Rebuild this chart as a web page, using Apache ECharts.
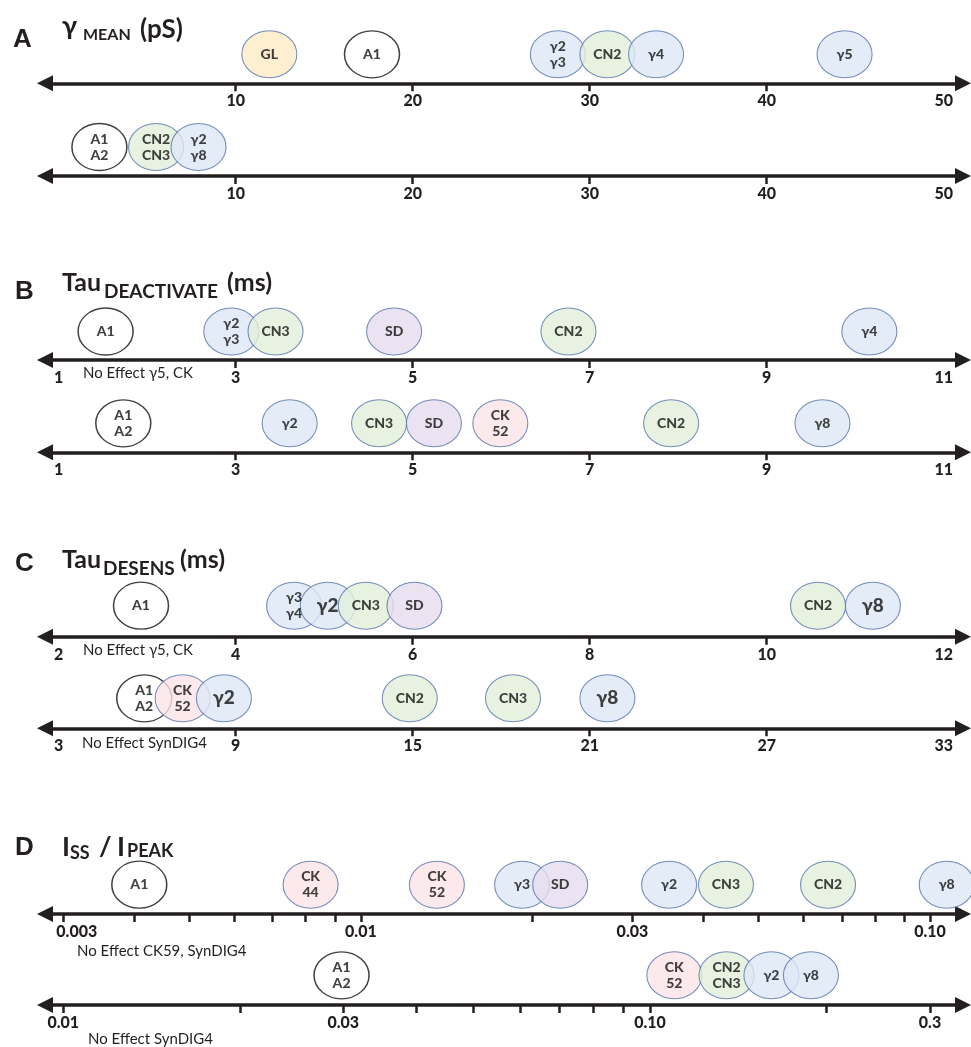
<!DOCTYPE html>
<html><head><meta charset="utf-8">
<script src="https://cdn.jsdelivr.net/npm/echarts@6/dist/echarts.min.js"></script>
<style>html,body{margin:0;padding:0;background:#fff}#c{width:971px;height:1047px}</style>
</head><body><div id="c"></div>
<script>
// ---------------- DATA ----------------
// A: gamma mean (pS)
const A1_labels = ['GL', 'A1', 'γ2\nγ3', 'CN2', 'γ4', 'γ5'];
const A1_values = [11.9, 17.7, 28.2, 31.0, 33.75, 44.4];
const A1_kinds  = ['GL', 'A', 'G', 'CN', 'G', 'G'];
const A2_labels = ['A1\nA2', 'CN2\nCN3', 'γ2\nγ8'];
const A2_values = [2.3, 5.5, 7.9];
const A2_kinds  = ['A', 'CN', 'G'];
const A_tickLabels = [10, 20, 30, 40, 50];

// B: Tau deactivate (ms)
const B1_labels = ['A1', 'γ2\nγ3', 'CN3', 'SD', 'CN2', 'γ4'];
const B1_values = [1.53, 2.95, 3.45, 4.79, 6.76, 10.16];
const B1_kinds  = ['A', 'G', 'CN', 'SD', 'CN', 'G'];
const B2_labels = ['A1\nA2', 'γ2', 'CN3', 'SD', 'CK\n52', 'CN2', 'γ8'];
const B2_values = [1.73, 3.61, 4.62, 5.24, 5.99, 7.92, 9.63];
const B2_kinds  = ['A', 'G', 'CN', 'SD', 'CK', 'CN', 'G'];
const B_tickLabels = [1, 3, 5, 7, 9, 11];

// C: Tau desens (ms)
const C1_labels = ['A1', 'γ3\nγ4', 'γ2', 'CN3', 'SD', 'CN2', 'γ8'];
const C1_values = [2.93, 4.66, 5.04, 5.47, 6.02, 10.58, 11.2];
const C1_kinds  = ['A', 'G', 'G', 'CN', 'SD', 'CN', 'G'];
const C1_tickLabels = [2, 4, 6, 8, 10, 12];
const C2_labels = ['A1\nA2', 'CK\n52', 'γ2', 'CN2', 'CN3', 'γ8'];
const C2_values = [5.9, 7.2, 8.6, 14.9, 18.4, 21.6];
const C2_kinds  = ['A', 'CK', 'G', 'CN', 'CN', 'G'];
const C2_tickLabels = [3, 9, 15, 21, 27, 33];

// D: Iss / Ipeak
const D1_labels = ['A1', 'CK\n44', 'CK\n52', 'γ3', 'SD', 'γ2', 'CN3', 'CN2', 'γ8'];
const D1_values = [0.00408, 0.00816, 0.0136, 0.0192, 0.0224, 0.0348, 0.0438, 0.0662, 0.107];
const D1_kinds  = ['A', 'CK', 'CK', 'G', 'SD', 'G', 'CN', 'CN', 'G'];
const D1_tickValues = [0.003, 0.01, 0.03, 0.1];
const D1_tickLabels = ['0.003', '0.01', '0.03', '0.10'];
const D1_minorTicks = [0.004, 0.005, 0.006, 0.007, 0.008, 0.009, 0.02, 0.04, 0.05, 0.06, 0.07, 0.08, 0.09];
const D2_labels = ['A1\nA2', 'CK\n52', 'CN2\nCN3', 'γ2', 'γ8'];
const D2_values = [0.0298, 0.110, 0.135, 0.161, 0.188];
const D2_kinds  = ['A', 'CK', 'CN', 'G', 'G'];
const D2_tickValues = [0.01, 0.03, 0.1, 0.3];
const D2_tickLabels = ['0.01', '0.03', '0.10', '0.3'];
const D2_minorTicks = [0.02, 0.04, 0.05, 0.06, 0.07, 0.08, 0.09, 0.2];

const noEffectNotes = ['No Effect γ5, CK', 'No Effect γ5, CK', 'No Effect SynDIG4', 'No Effect CK59, SynDIG4', 'No Effect SynDIG4'];

// ---------------- LAYOUT / STYLE ----------------
const INK = '#231f20';
const FONT = 'Lato, "Open Sans", "DejaVu Sans", sans-serif';
const kindStyle = {
  G:  { color: '#dde8f5', borderColor: '#5572ab', borderWidth: 1 },
  CN: { color: '#e2efd9', borderColor: '#5572ab', borderWidth: 1 },
  SD: { color: '#e6dcee', borderColor: '#5572ab', borderWidth: 1 },
  CK: { color: '#fbe4e7', borderColor: '#5572ab', borderWidth: 1 },
  GL: { color: '#fdebc4', borderColor: '#5572ab', borderWidth: 1 },
  A:  { color: '#ffffff', borderColor: '#111111', borderWidth: 1.4 }
};
const L = 45, R = 963;

const rows = [
  { id: 'A1', labels: A1_labels, values: A1_values, kinds: A1_kinds, tickVals: A_tickLabels, tickText: A_tickLabels.map(String), span: [0, 50], px: [58.7, 943.7], lineY: 83.3, off: 29 },
  { id: 'A2', labels: A2_labels, values: A2_values, kinds: A2_kinds, tickVals: A_tickLabels, tickText: A_tickLabels.map(String), span: [0, 50], px: [58.7, 943.7], lineY: 176, off: 29 },
  { id: 'B1', labels: B1_labels, values: B1_values, kinds: B1_kinds, tickVals: B_tickLabels, tickText: B_tickLabels.map(String), span: [1, 11], px: [58.7, 943.7], lineY: 360, off: 28.5 },
  { id: 'B2', labels: B2_labels, values: B2_values, kinds: B2_kinds, tickVals: B_tickLabels, tickText: B_tickLabels.map(String), span: [1, 11], px: [58.7, 943.7], lineY: 452.3, off: 29 },
  { id: 'C1', labels: C1_labels, values: C1_values, kinds: C1_kinds, tickVals: C1_tickLabels, tickText: C1_tickLabels.map(String), span: [2, 12], px: [58.7, 943.7], lineY: 636.7, off: 31 },
  { id: 'C2', labels: C2_labels, values: C2_values, kinds: C2_kinds, tickVals: C2_tickLabels, tickText: C2_tickLabels.map(String), span: [3, 33], px: [58.7, 943.7], lineY: 728.3, off: 30 },
  { id: 'D1', labels: D1_labels, values: D1_values, kinds: D1_kinds, tickVals: D1_tickValues, tickText: D1_tickLabels, minor: D1_minorTicks, log: true, span: [0.003, 0.1], px: [63.3, 930], lineY: 914, off: 29.3, shiftFirst: true },
  { id: 'D2', labels: D2_labels, values: D2_values, kinds: D2_kinds, tickVals: D2_tickValues, tickText: D2_tickLabels, minor: D2_minorTicks, log: true, span: [0.01, 0.3], px: [63.3, 930], lineY: 1005, off: 29.7 }
];

const grid = [], xAxis = [], yAxis = [], series = [];
rows.forEach((r, i) => {
  const f = r.log ? Math.log10 : (v => v);
  const g = r.log ? (v => Math.pow(10, v)) : (v => v);
  const a = f(r.span[0]), b = f(r.span[1]);
  const s = (b - a) / (r.px[1] - r.px[0]);
  const min = g(a - (r.px[0] - L) * s);
  const max = g(b + (R - r.px[1]) * s);
  grid.push({ left: L, width: R - L, top: r.lineY - 2 * r.off, height: 2 * r.off });
  let tickVals;
  if (r.log) tickVals = r.tickVals.concat(r.minor).sort((p, q) => p - q);
  else tickVals = r.tickVals.filter(v => v > r.span[0] && v < r.span[1]);
  xAxis.push({
    gridIndex: i,
    type: r.log ? 'log' : 'value',
    logBase: 10,
    min: min, max: max,
    splitLine: { show: false },
    axisLine: { show: true, symbol: ['triangle', 'triangle'], symbolSize: [16, 16],
      lineStyle: { color: INK, width: 3.6 } },
    axisTick: { show: true, customValues: tickVals, length: 8, lineStyle: { color: INK, width: 2.5 } },
    axisLabel: {
      show: true, customValues: r.tickVals, margin: 10,
      color: INK, fontSize: 16, fontWeight: 900, fontFamily: FONT,
      rich: { sh: { color: INK, fontSize: 16, fontWeight: 900, fontFamily: FONT, padding: [0, 0, 0, 27] } },
      formatter: function (v) {
        let best = 0, bd = Infinity;
        r.tickVals.forEach((t, k) => { const d = Math.abs(f(t) - f(v)); if (d < bd) { bd = d; best = k; } });
        if (r.shiftFirst && best === 0) return '{sh|' + r.tickText[best] + '}';
        return r.tickText[best];
      }
    }
  });
  yAxis.push({ gridIndex: i, type: 'value', min: 0, max: 1, show: false });
  series.push({
    type: 'scatter', xAxisIndex: i, yAxisIndex: i, clip: false,
    symbol: 'circle', symbolSize: [55, 47], silent: true,
    data: r.values.map((v, k) => {
      const big = r.id[0] === 'C' && r.labels[k].indexOf('\n') < 0 && r.labels[k][0] === 'γ';
      return {
        name: r.labels[k], value: [v, 0.5],
        itemStyle: kindStyle[r.kinds[k]],
        label: { fontSize: big ? 19 : 14 }
      };
    }),
    label: { show: true, position: 'inside', formatter: '{b}', color: '#111111',
      fontFamily: FONT, fontSize: 14, fontWeight: 900, lineHeight: 16 }
  });
});

function txt(x, y, text, font) {
  return { type: 'text', x: x, y: y, silent: true,
    style: { text: text, font: font, fill: INK, align: 'left', verticalAlign: 'middle',
      textAlign: 'left', textVerticalAlign: 'middle' } };
}
const LET = 'bold 26px "Liberation Sans", Arial, sans-serif';
const graphic = [
  txt(13, 40, 'A', LET),
  txt(62, 26, 'γ', 'bold 27px ' + FONT),
  txt(83, 35, 'MEAN', 'bold 16px ' + FONT),
  txt(140, 30, '(pS)', 'bold 26px ' + FONT),
  txt(15, 291.5, 'B', LET),
  txt(62, 283, 'Tau', 'bold 25px ' + FONT),
  txt(104, 292, 'DEACTIVATE', 'bold 19px ' + FONT),
  txt(227, 283, '(ms)', 'bold 25px ' + FONT),
  txt(15, 564, 'C', LET),
  txt(62, 560, 'Tau', 'bold 25px ' + FONT),
  txt(103, 569, 'DESENS', 'bold 19px ' + FONT),
  txt(180, 560, '(ms)', 'bold 25px ' + FONT),
  txt(15, 847.5, 'D', LET),
  txt(62, 847, 'I', 'bold 27px ' + FONT),
  txt(70, 853, 'SS', 'bold 18px ' + FONT),
  txt(99, 847, '/', 'bold 27px ' + FONT),
  txt(117, 847, 'I', 'bold 27px ' + FONT),
  txt(127, 851.5, 'PEAK', 'bold 18px ' + FONT),
  txt(83, 373, noEffectNotes[0], '15px ' + FONT),
  txt(83, 650, noEffectNotes[1], '15px ' + FONT),
  txt(82, 743, noEffectNotes[2], '15px ' + FONT),
  txt(77, 951, noEffectNotes[3], '15px ' + FONT),
  txt(88, 1039, noEffectNotes[4], '15px ' + FONT)
];

const chart = echarts.init(document.getElementById('c'), null, { renderer: 'canvas' });
chart.setOption({
  animation: false,
  backgroundColor: '#ffffff',
  grid: grid, xAxis: xAxis, yAxis: yAxis, series: series, graphic: graphic
});
</script>
</body></html>
